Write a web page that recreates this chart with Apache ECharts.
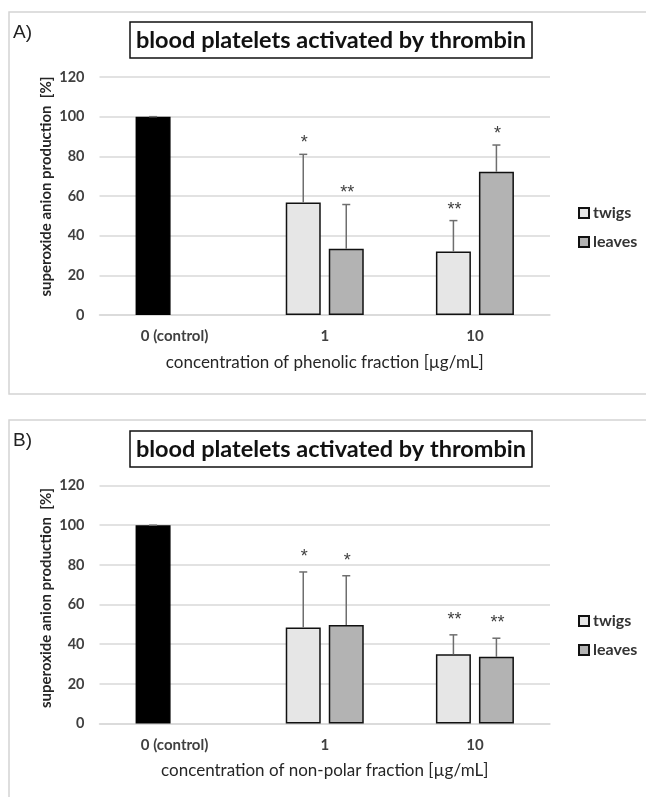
<!DOCTYPE html>
<html>
<head>
<meta charset="utf-8">
<script src="https://cdn.jsdelivr.net/npm/echarts@6/dist/echarts.min.js"></script>
<style>
  html, body { margin: 0; padding: 0; background: #fff; }
  #chart { width: 646px; height: 797px; }
</style>
</head>
<body>
<div id="chart"></div>
<script>
// Concentration groups shared by both panels
const categories = ['0 (control)', '1', '10'];
const yTicks = [0, 20, 40, 60, 80, 100, 120];

// A) phenolic fraction: mean superoxide production [%] and upper SD
const twigsA = [100, 56.7, 32.0];
const leavesA = [null, 33.4, 72.2];
const twigsErrA = [0, 24.3, 15.6];
const leavesErrA = [null, 22.3, 13.5];
const twigsSigA = ['', '*', '**'];
const leavesSigA = ['', '**', '*'];

// B) non-polar fraction
const twigsB = [100, 48.4, 34.9];
const leavesB = [null, 49.7, 33.6];
const twigsErrB = [0, 28.0, 9.8];
const leavesErrB = [null, 24.8, 9.4];
const twigsSigB = ['', '*', '**'];
const leavesSigB = ['', '*', '**'];

const panelTitle = 'blood platelets activated by thrombin';
const yTitle = 'superoxide anion production  [%]';
const xTitleA = 'concentration of phenolic fraction [\u00b5g/mL]';
const xTitleB = 'concentration of non-polar fraction [\u00b5g/mL]';

const FONT = 'Lato, "Open Sans", sans-serif';
const BAR_W = 35;
const BAR_GAP = 8;
const HALF_STEP = (BAR_W + BAR_GAP) / 2;

const chart = echarts.init(document.getElementById('chart'), null, { renderer: 'canvas' });

function makeGrid(top) {
  return { left: 99.5, width: 450.5, top: top, height: 238, containLabel: false };
}

function makeX(gridIndex, name) {
  return {
    type: 'category',
    gridIndex: gridIndex,
    data: categories,
    axisLine: { lineStyle: { color: '#d9d9d9', width: 1.5 } },
    axisTick: { show: false },
    axisLabel: { margin: 14, fontFamily: FONT, fontWeight: 'bold', fontSize: 15, color: '#404040' },
    name: name,
    nameLocation: 'middle',
    nameGap: 39,
    nameTextStyle: { fontFamily: FONT, fontSize: 17, color: '#262626' }
  };
}

function makeY(gridIndex) {
  return {
    type: 'value',
    gridIndex: gridIndex,
    min: yTicks[0],
    max: yTicks[yTicks.length - 1],
    interval: yTicks[1] - yTicks[0],
    axisLine: { show: false },
    axisTick: { show: false },
    splitLine: { lineStyle: { color: '#d9d9d9', width: 1.5 } },
    axisLabel: { margin: 15, fontFamily: FONT, fontWeight: 'bold', fontSize: 14.5, color: '#404040' }
  };
}

function barSeries(name, values, fill, axisIdx, markFirstBlack) {
  return {
    type: 'bar',
    name: name,
    xAxisIndex: axisIdx,
    yAxisIndex: axisIdx,
    barWidth: BAR_W,
    barGap: (BAR_GAP / BAR_W * 100).toFixed(1) + '%',
    itemStyle: { color: fill, borderColor: '#111', borderWidth: 1.5 },
    data: values.map(function (v, i) {
      if (markFirstBlack && i === 0) {
        return { value: v, itemStyle: { color: '#000', borderColor: '#000' } };
      }
      return v;
    }),
    z: 2
  };
}

// Upper error whiskers and significance marks drawn over the bars
function errorSeries(axisIdx, tw, twErr, twSig, lv, lvErr, lvSig, labelLift) {
  const items = [];
  const sigs = [];
  categories.forEach(function (c, i) {
    if (tw[i] != null) { items.push([i, tw[i], twErr[i], 0]); sigs.push(twSig[i]); }
    if (lv[i] != null) { items.push([i, lv[i], lvErr[i], 1]); sigs.push(lvSig[i]); }
  });
  return {
    type: 'custom',
    xAxisIndex: axisIdx,
    yAxisIndex: axisIdx,
    silent: true,
    z: 5,
    data: items,
    renderItem: function (params, api) {
      const cat = api.value(0), v = api.value(1), e = api.value(2), s = api.value(3);
      const base = api.coord([cat, v]);
      const top = api.coord([cat, v + e]);
      const x = base[0] + (s === 0 ? -HALF_STEP : HALF_STEP);
      const children = [
        { type: 'line', shape: { x1: x, y1: base[1], x2: x, y2: top[1] },
          style: { stroke: '#6e6e6e', lineWidth: 1.5 } },
        { type: 'line', shape: { x1: x - 4, y1: top[1], x2: x + 4, y2: top[1] },
          style: { stroke: '#6e6e6e', lineWidth: 1.5 } }
      ];
      const sig = sigs[params.dataIndex];
      if (sig) {
        children.push({
          type: 'text',
          x: x + 1, y: top[1] - labelLift,
          style: { text: sig, fill: '#404040', font: '18px "Liberation Sans", Arial, sans-serif', align: 'center', verticalAlign: 'middle' }
        });
      }
      return { type: 'group', children: children };
    }
  };
}

function panelGraphics(boxTop, boxHeight, letter, letterY, titleTop, yTitleY) {
  return [
    { type: 'rect', silent: true, z: 0,
      shape: { x: 9, y: boxTop, width: 700, height: boxHeight },
      style: { fill: 'none', stroke: '#d4d4d4', lineWidth: 1.5 } },
    { type: 'text', x: 13, y: letterY,
      style: { text: letter, font: '19px "Liberation Sans", Arial, sans-serif', fill: '#222', verticalAlign: 'middle' } },
    { type: 'rect', shape: { x: 130, y: titleTop, width: 402, height: 36 },
      style: { fill: '#fff', stroke: '#111', lineWidth: 1.5 } },
    { type: 'text', x: 331, y: titleTop + 18,
      style: { text: panelTitle, font: 'bold 23.5px ' + FONT, fill: '#111', align: 'center', verticalAlign: 'middle' } },
    { type: 'text', x: 46.5, y: yTitleY, rotation: Math.PI / 2,
      style: { text: yTitle, font: 'bold 15px ' + FONT, fill: '#262626', align: 'center', verticalAlign: 'middle' } }
  ];
}

function makeLegend(top) {
  return {
    orient: 'vertical',
    left: 573,
    top: top,
    icon: 'rect',
    itemWidth: 10,
    itemHeight: 10,
    itemGap: 13,
    selectedMode: false,
    data: ['twigs', 'leaves'],
    textStyle: { fontFamily: FONT, fontWeight: 'bold', fontSize: 16, color: '#333', padding: [0, 0, 0, -1] }
  };
}

const option = {
  backgroundColor: '#fff',
  animation: false,
  grid: [makeGrid(77), makeGrid(485.5)],
  xAxis: [makeX(0, xTitleA), makeX(1, xTitleB)],
  yAxis: [makeY(0), makeY(1)],
  legend: [makeLegend(200), makeLegend(608)],
  graphic: panelGraphics(12, 382, 'A)', 33, 22, 186.5)
    .concat(panelGraphics(420, 420, 'B)', 441, 431, 598)),
  series: [
    barSeries('twigs', twigsA, '#e6e6e6', 0, true),
    barSeries('leaves', leavesA, '#b3b3b3', 0, false),
    errorSeries(0, twigsA, twigsErrA, twigsSigA, leavesA, leavesErrA, leavesSigA, 11),
    barSeries('twigs', twigsB, '#e6e6e6', 1, true),
    barSeries('leaves', leavesB, '#b3b3b3', 1, false),
    errorSeries(1, twigsB, twigsErrB, twigsSigB, leavesB, leavesErrB, leavesSigB, 15)
  ]
};

chart.setOption(option);
</script>
</body>
</html>
